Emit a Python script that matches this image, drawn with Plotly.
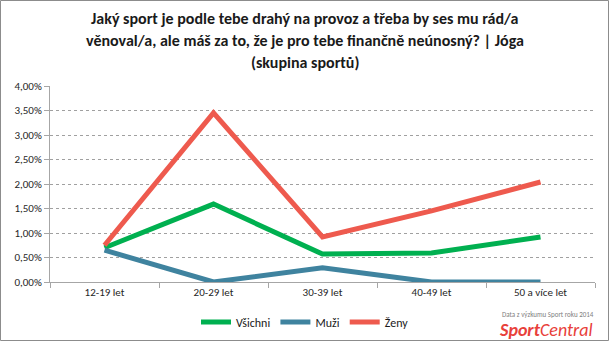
import plotly.graph_objects as go

# Age groups on the x axis
categories = ["12-19 let", "20-29 let", "30-39 let", "40-49 let", "50 a více let"]

# Share of respondents (fraction) per group
vsichni = [0.0070, 0.0159, 0.0057, 0.0059, 0.0092]
muzi = [0.0065, 0.0000, 0.0029, 0.0000, 0.0000]
zeny = [0.0075, 0.0345, 0.0092, 0.0145, 0.0204]

series_names = ["Všichni", "Muži", "Ženy"]
series_values = [vsichni, muzi, zeny]
series_colors = ["#00B050", "#3F839F", "#EE5A4E"]

y_ticks = [0, 0.005, 0.01, 0.015, 0.02, 0.025, 0.03, 0.035, 0.04]

title_lines = [
    "Jaký sport je podle tebe drahý na provoz a třeba by ses mu rád/a",
    "věnoval/a, ale máš za to, že je pro tebe finančně neúnosný? | Jóga",
    "(skupina sportů)",
]

FONT = "Carlito, Lato, Open Sans, sans-serif"

fig = go.Figure()
for name, vals, col in zip(series_names, series_values, series_colors):
    fig.add_trace(go.Scatter(
        x=categories, y=vals, name=name, mode="lines",
        line=dict(color=col, width=5),
    ))

W, H = 610, 344
ml, mr, mt, mb = 50, 15, 86, 62
pw, ph = W - ml - mr, H - mt - mb


def px_y(y):
    """Pixel row (from top of page) to paper coordinate."""
    return 1 - (y - mt) / ph


def px_x(x):
    return (x - ml) / pw


fig.update_layout(
    width=W, height=H,
    margin=dict(l=ml, r=mr, t=mt, b=mb, autoexpand=False),
    paper_bgcolor="white", plot_bgcolor="white",
    separators=", ",
    font=dict(family=FONT, size=11, color="#404040"),
    showlegend=True,
    legend=dict(orientation="h", x=px_x(305), xanchor="center",
                yref="container", y=1 - 322 / H, yanchor="middle",
                font=dict(family=FONT, size=12, color="#1a1a1a"),
                itemwidth=30, tracegroupgap=0, bgcolor="rgba(0,0,0,0)"),
    xaxis=dict(
        type="category", range=[-0.5, 4.5],
        showline=True, linecolor="#A6A6A6", linewidth=1,
        ticks="outside", tickson="boundaries", ticklen=5, tickcolor="#A6A6A6",
        showgrid=False, zeroline=False, automargin=False,
        tickfont=dict(family=FONT, size=11, color="#262626"),
    ),
    yaxis=dict(
        range=[0, 0.04], tickvals=y_ticks, tickformat=".2%",
        showline=True, linecolor="#A6A6A6", linewidth=1,
        ticks="outside", ticklen=5, tickcolor="#A6A6A6",
        showgrid=True, gridcolor="#A0A0A0", griddash="dot", gridwidth=1,
        zeroline=False, automargin=False,
        tickfont=dict(family=FONT, size=11, color="#262626"),
    ),
)

# Chart title, one line per annotation
for line, yc in zip(title_lines, [18, 40, 62]):
    fig.add_annotation(text="<b>" + line + "</b>", xref="paper", yref="paper",
                       x=px_x(305), y=px_y(yc), xanchor="center", yanchor="middle",
                       showarrow=False,
                       font=dict(family=FONT, size=16, color="#1a1a1a"))

# Outer frame around the whole chart
fig.add_shape(type="rect", xref="paper", yref="paper",
              x0=px_x(0.5), x1=px_x(W - 1.5),
              y0=px_y(H - 3.5), y1=px_y(0.5),
              line=dict(color="#8C8C8C", width=1), layer="below")

# Source note and brand mark
fig.add_annotation(text="Data z výzkumu Sport roku 2014", xref="paper", yref="paper",
                   x=px_x(548), y=px_y(314),
                   xanchor="center", yanchor="middle", showarrow=False,
                   font=dict(family=FONT, size=7, color="#808080"))
fig.add_annotation(text="<b><i>Sport</i></b><i>Central</i>", xref="paper", yref="paper",
                   x=px_x(546), y=px_y(330),
                   xanchor="center", yanchor="middle", showarrow=False,
                   font=dict(family=FONT, size=18, color="#E8403A"))

fig.write_html("out.html")
